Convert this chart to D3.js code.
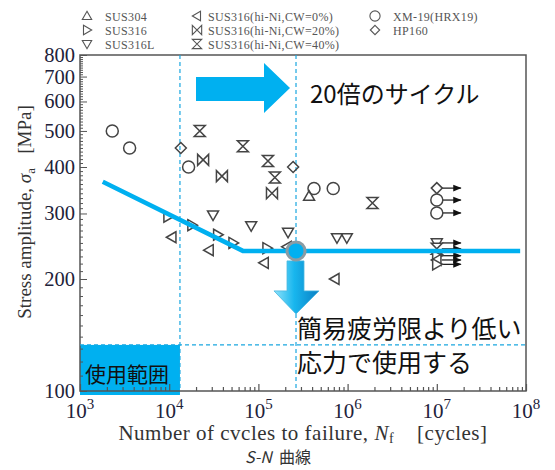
<!DOCTYPE html>
<html>
<head>
<meta charset="utf-8">
<script src="https://cdn.jsdelivr.net/npm/d3@7"></script>
<style>
body { margin: 0; background: #fff; }
text { font-family: "Liberation Serif", "DejaVu Serif", serif; }
.jp { font-family: "Noto Sans CJK JP", "Noto Sans", sans-serif; }
</style>
</head>
<body>
<svg id="chart" width="555" height="470"></svg>
<script>
// data: [cycles, stress MPa]
const sus304 = [[370000, 334]];
const sus316 = [[9700, 294], [18000, 279], [35000, 263], [52000, 250], [125000, 242]];
const sus316L = [[31000, 297], [83000, 278], [215000, 267], [760000, 258], [980000, 258]];
const cw0 = [[10700, 259], [28000, 239], [116000, 221], [210000, 244], [720000, 200]];
const cw20 = [[24000, 418], [39000, 378], [142000, 340]];
const cw40 = [[22000, 500], [67000, 455], [128000, 415], [153000, 375], [1900000, 320]];
const xm19 = [[2300, 500], [3600, 450], [16500, 400], [420000, 350], [690000, 350]];
const hp160 = [[13500, 450], [245000, 400]];
// run-outs (no failure) at 1e7 cycles
const runouts = [
  ["hp160", 1e7, 351], ["xm19", 1e7, 326], ["xm19", 1e7, 301],
  ["sus316L", 1e7, 250], ["cw40", 1e7, 241], ["sus316", 1e7, 231],
  ["cw0", 1e7, 225], ["sus316", 1e7, 219]
];
const snLine = [[1800, 365], [67000, 238], [8.6e7, 238]];
const limitPoint = [264000, 238];
const rangeN = [13200, 264000];   // 20x cycles
const rangeS = 133;
const xTicks = [3, 4, 5, 6, 7, 8];
const yTicks = [100, 200, 300, 400, 500, 600, 700, 800];

const legendItems = [
  {key: "sus304", label: "SUS304", col: 0, row: 0},
  {key: "sus316", label: "SUS316", col: 0, row: 1},
  {key: "sus316L", label: "SUS316L", col: 0, row: 2},
  {key: "cw0", label: "SUS316(hi-Ni,CW=0%)", col: 1, row: 0},
  {key: "cw20", label: "SUS316(hi-Ni,CW=20%)", col: 1, row: 1},
  {key: "cw40", label: "SUS316(hi-Ni,CW=40%)", col: 1, row: 2},
  {key: "xm19", label: "XM-19(HRX19)", col: 2, row: 0},
  {key: "hp160", label: "HP160", col: 2, row: 1}
];
const seriesData = {sus304, sus316, sus316L, cw0, cw20, cw40, xm19, hp160};

const blue = "#00b0f0";
const svg = d3.select("#chart");

const x = d3.scaleLog().domain([1e3, 1e8]).range([80, 526]);
const y = d3.scaleLog().domain([100, 800]).range([391, 55]);

const s = 5.5;
const shapes = {
  sus304: `M0,${-s}L${s},${s*0.75}L${-s},${s*0.75}Z`,
  sus316L: `M${-s},${-s*0.75}L${s},${-s*0.75}L0,${s}Z`,
  sus316: `M${-s*0.75},${-s}L${s},0L${-s*0.75},${s}Z`,
  cw0: `M${s*0.75},${-s}L${-s},0L${s*0.75},${s}Z`,
  cw20: `M${-s},${-s}L${s},${s}L${s},${-s}L${-s},${s}Z`,
  cw40: `M${-s},${-s}L${s},${-s}L${-s},${s}L${s},${s}Z`,
  hp160: `M0,${-s}L${s},0L0,${s}L${-s},0Z`,
  xm19: d3.arc()({innerRadius: 0, outerRadius: 6, startAngle: 0, endAngle: 2 * Math.PI})
};

// defs
const defs = svg.append("defs");
defs.append("marker").attr("id", "ah").attr("viewBox", "0 0 10 10")
  .attr("refX", 9).attr("refY", 5).attr("markerWidth", 7).attr("markerHeight", 7)
  .attr("orient", "auto")
  .append("path").attr("d", "M0,1L10,5L0,9Z").attr("fill", "#111");
const grad = defs.append("linearGradient").attr("id", "dg")
  .attr("x1", "0").attr("x2", "1").attr("y1", "0").attr("y2", "0");
grad.append("stop").attr("offset", "0%").attr("stop-color", "#8fe2fa");
grad.append("stop").attr("offset", "45%").attr("stop-color", "#18b6ee");
grad.append("stop").attr("offset", "100%").attr("stop-color", "#0a7fc4");

// blue box for usage range
svg.append("rect")
  .attr("x", x(1e3)).attr("y", y(rangeS))
  .attr("width", x(rangeN[0]) - x(1e3)).attr("height", y(100) - y(rangeS) + 4)
  .attr("fill", blue);
svg.append("text").attr("class", "jp")
  .attr("x", x(1e3) + 5).attr("y", y(100) - 9)
  .attr("font-size", 21).attr("fill", "#111")
  .text("使用範囲");

// frame
svg.append("rect").attr("x", x(1e3)).attr("y", y(800))
  .attr("width", x(1e8) - x(1e3)).attr("height", y(100) - y(800))
  .attr("fill", "none").attr("stroke", "#555").attr("stroke-width", 1.5);

// axes, ticks pointing inward
const xMinor = [];
for (let e = 3; e < 8; e++) for (let m = 2; m <= 9; m++) xMinor.push(m * Math.pow(10, e));
const xMajor = xTicks.map(e => Math.pow(10, e));
const gx = svg.append("g").attr("transform", `translate(0,${y(100)})`);
gx.append("g").call(d3.axisBottom(x).tickValues(xMinor).tickSize(-4).tickFormat(""));
gx.append("g").call(d3.axisBottom(x).tickValues(xMajor).tickSize(-7).tickFormat(""));
gx.selectAll("path.domain").remove();
gx.selectAll("line").attr("stroke", "#555").attr("stroke-width", 1.2);

const yMinor = d3.range(110, 800, 10).filter(v => v % 100 !== 0);
const gy = svg.append("g").attr("transform", `translate(${x(1e3)},0)`);
gy.append("g").call(d3.axisLeft(y).tickValues(yMinor).tickSize(-3).tickFormat(""));
gy.append("g").call(d3.axisLeft(y).tickValues(yTicks).tickSize(-7).tickFormat(""));
gy.selectAll("path.domain").remove();
gy.selectAll("line").attr("stroke", "#555").attr("stroke-width", 1);

// tick labels
svg.append("g").selectAll("text").data(yTicks).join("text")
  .attr("x", x(1e3) - 5).attr("y", d => y(d) + 7)
  .attr("text-anchor", "end").attr("font-size", 20.5).attr("fill", "#22223a")
  .text(d => d);
const xl = svg.append("g").selectAll("text").data(xTicks).join("text")
  .attr("x", d => x(Math.pow(10, d))).attr("y", 418)
  .attr("text-anchor", "middle").attr("font-size", 21).attr("fill", "#22223a");
xl.append("tspan").text("10");
xl.append("tspan").attr("dy", -9).attr("font-size", 15).text(d => d);

// axis titles
const xt = svg.append("text").attr("x", 303).attr("y", 440)
  .attr("text-anchor", "middle").attr("font-size", 21).attr("letter-spacing", 0.5)
  .attr("fill", "#333");
xt.append("tspan").text("Number of cvcles to failure, ");
xt.append("tspan").attr("font-style", "italic").text("N");
xt.append("tspan").attr("font-size", 14).attr("dy", 3).text("f");
xt.append("tspan").attr("dy", -3).attr("xml:space", "preserve").text("    [cycles]");

const yt = svg.append("text").attr("transform", "translate(31,212) rotate(-90)")
  .attr("text-anchor", "middle").attr("font-size", 19).attr("fill", "#333");
yt.append("tspan").text("Stress amplitude, ");
yt.append("tspan").attr("font-style", "italic").text("σ");
yt.append("tspan").attr("font-size", 13).attr("dy", 4).text("a");
yt.append("tspan").attr("dy", -4).attr("xml:space", "preserve").text("   [MPa]");

// dashed guide lines
const dash = {stroke: "#1aa7e0", "stroke-width": 1.2, "stroke-dasharray": "4,3"};
rangeN.forEach(n => {
  svg.append("line").attr("x1", x(n)).attr("x2", x(n)).attr("y1", y(800)).attr("y2", y(100))
    .attr("stroke", dash.stroke).attr("stroke-width", dash["stroke-width"])
    .attr("stroke-dasharray", dash["stroke-dasharray"]);
});
svg.append("line").attr("x1", x(1e3)).attr("x2", x(1e8)).attr("y1", y(rangeS)).attr("y2", y(rangeS))
  .attr("stroke", dash.stroke).attr("stroke-width", dash["stroke-width"])
  .attr("stroke-dasharray", dash["stroke-dasharray"]);

// data markers
const pts = [];
Object.entries(seriesData).forEach(([k, arr]) => arr.forEach(d => pts.push({k, n: d[0], s: d[1]})));
runouts.forEach(d => pts.push({k: d[0], n: d[1], s: d[2], run: true}));
svg.append("g").selectAll("line").data(pts.filter(d => d.run)).join("line")
  .attr("x1", d => x(d.n) + 5).attr("x2", d => x(d.n) + 24)
  .attr("y1", d => y(d.s)).attr("y2", d => y(d.s))
  .attr("stroke", "#111").attr("stroke-width", 1.2).attr("marker-end", "url(#ah)");
svg.append("g").selectAll("path").data(pts).join("path")
  .attr("transform", d => `translate(${x(d.n)},${y(d.s)})`)
  .attr("d", d => shapes[d.k])
  .attr("fill", d => d.run ? "#fff" : "none")
  .attr("stroke", "#444").attr("stroke-width", 1.5);

// S-N curve
svg.append("path").datum(snLine)
  .attr("d", d3.line().x(d => x(d[0])).y(d => y(d[1])))
  .attr("fill", "none").attr("stroke", blue).attr("stroke-width", 4.5);

// down arrow under the fatigue limit point
const ax = x(limitPoint[0]), ay = y(limitPoint[1]);
svg.append("path")
  .attr("d", `M${ax-9},${ay+10}L${ax+8},${ay+10}L${ax+8},${ay+40}L${ax+23},${ay+40}L${ax},${ay+63}L${ax-22},${ay+40}L${ax-9},${ay+40}Z`)
  .attr("fill", "url(#dg)").attr("stroke", "#4ab8e0").attr("stroke-width", 0.8);
svg.append("circle").attr("cx", ax).attr("cy", ay).attr("r", 9)
  .attr("fill", blue).attr("stroke", "#8a9ca4").attr("stroke-width", 3);

// right arrow (20x cycles)
const tip = x(rangeN[1]) - 6;
svg.append("path")
  .attr("d", `M${tip-94},77L${tip-26},77L${tip-26},63L${tip},88L${tip-26},113L${tip-26},101L${tip-94},101Z`)
  .attr("fill", blue);

// annotations
svg.append("text").attr("class", "jp").attr("x", 310).attr("y", 103)
  .attr("font-size", 24).attr("fill", "#111").text("20倍のサイクル");
svg.append("text").attr("class", "jp").attr("x", 297).attr("y", 338)
  .attr("font-size", 25).attr("fill", "#111").text("簡易疲労限より低い");
svg.append("text").attr("class", "jp").attr("x", 297).attr("y", 372)
  .attr("font-size", 25).attr("fill", "#111").text("応力で使用する");

const cap = svg.append("text").attr("class", "jp").attr("x", 278).attr("y", 463)
  .attr("text-anchor", "middle").attr("font-size", 16).attr("fill", "#333");
cap.append("tspan").attr("font-style", "italic").text("S-N");
cap.append("tspan").attr("xml:space", "preserve").text("  曲線");

// legend
const colX = [87, 197, 375];
const rowY = [16, 30, 44];
const lg = svg.append("g").selectAll("g").data(legendItems).join("g")
  .attr("transform", d => `translate(${colX[d.col]},${rowY[d.row]})`);
lg.append("path").attr("d", d => shapes[d.key]).attr("transform", "scale(0.85)")
  .attr("fill", "none").attr("stroke", "#555").attr("stroke-width", 1.3);
lg.append("text").attr("x", d => d.col === 1 ? 11 : 18).attr("y", 4.5)
  .attr("font-size", 12).attr("letter-spacing", 0.35).attr("fill", "#555").text(d => d.label);
</script>
</body>
</html>
